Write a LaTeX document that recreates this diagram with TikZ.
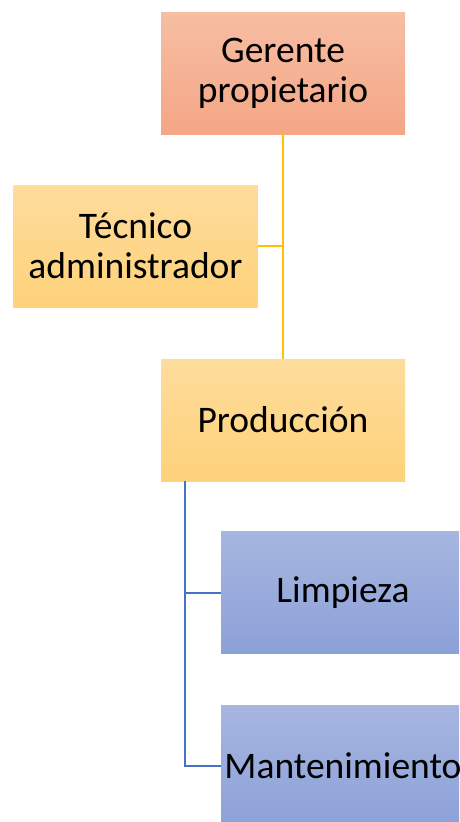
\documentclass[tikz,border=0pt]{standalone}
\usepackage{fontspec}
\setmainfont{Carlito}
\usetikzlibrary{positioning}
\definecolor{salmontop}{RGB}{246,190,163}
\definecolor{salmonbot}{RGB}{245,166,134}
\definecolor{goldtop}{RGB}{254,220,156}
\definecolor{goldbot}{RGB}{254,210,122}
\definecolor{bluetop}{RGB}{167,182,224}
\definecolor{bluebot}{RGB}{140,161,216}
\definecolor{goldline}{RGB}{255,192,0}
\definecolor{blueline}{RGB}{68,114,196}

\begin{document}
\begin{tikzpicture}[x=1pt, y=-1pt,
  orgbox/.style={rectangle, minimum width=244pt, minimum height=122pt,
    inner sep=0pt, align=center, font=\fontsize{37.5}{40}\selectfont},
  boss/.style={orgbox, top color=salmontop, bottom color=salmonbot},
  staff/.style={orgbox, top color=goldtop, bottom color=goldbot},
  crew/.style={orgbox, top color=bluetop, bottom color=bluebot},
  goldlink/.style={goldline, line width=2pt},
  bluelink/.style={blueline, line width=2pt}]
\useasboundingbox (0,0) rectangle (459,822);
\clip (0,0) rectangle (459,822);

% Top of the chart
\node[boss] (gerente) at (283,73) {Gerente\\propietario};
\node[staff] (tecnico) at (135.5,246) {Técnico\\administrador};
\node[staff] (produccion) at (283,420) {Producción};

\draw[goldlink] (gerente.south) -- (produccion.north);
\draw[goldlink] (tecnico.east) -- (tecnico.east -| gerente.south);

% Production crew
\node[crew] (limpieza) at (343,592.5) {Limpieza};
\node[crew] (mantenimiento) at (343,766) {Mantenimiento};

\coordinate (trunk) at (185,481);
\draw[bluelink] (trunk) |- (mantenimiento.west);
\draw[bluelink] (trunk |- limpieza.west) -- (limpieza.west);
\end{tikzpicture}
\end{document}
